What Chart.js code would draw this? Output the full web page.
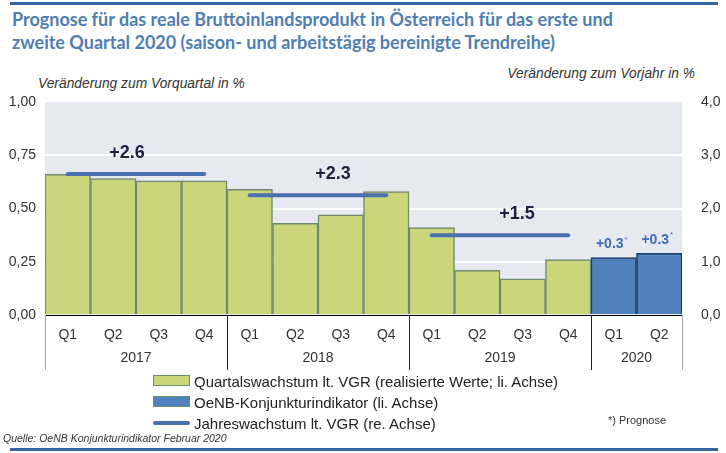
<!DOCTYPE html>
<html>
<head>
<meta charset="utf-8">
<script src="https://cdn.jsdelivr.net/npm/chart.js@4.4.1/dist/chart.umd.min.js"></script>
<style>
  body { margin: 0; width: 726px; height: 453px; position: relative; overflow: hidden; background: #fff;
         font-family: "Liberation Sans", Arial, sans-serif; color: #222; }
  canvas { position: absolute; left: 0; top: 0; }
  .rule { position: absolute; left: 10px; width: 708px; height: 3px; background: #3366a3; }
  .rule.top { top: 2px; }
  .rule.bottom { top: 448px; }
  .title { position: absolute; left: 12px; top: 8px; font-family: Lato, "Open Sans", sans-serif; font-weight: bold;
           font-size: 18px; line-height: 23px; color: #4f7eb0; white-space: nowrap; }
  .axt { position: absolute; font-family: "Liberation Sans Narrow", "Liberation Sans", sans-serif; font-style: italic;
         font-size: 13.8px; color: #333; white-space: nowrap; }
  .axt.left { left: 38px; top: 76px; }
  .axt.right { right: 31px; top: 66px; }
  .legend { position: absolute; left: 153px; top: 372px; font-size: 15px; color: #222; }
  .legend div { height: 21px; line-height: 19px; white-space: nowrap; }
  .legend span.sw { display: inline-block; width: 35px; height: 9px; margin-right: 4px; vertical-align: 1px; }
  .legend span.ln { display: inline-block; width: 37px; height: 4px; border-radius: 2px; margin-right: 4px;
                    vertical-align: 4px; background: #4b6fad; }
  .note { position: absolute; left: 608px; top: 414px; font-size: 11px; color: #333; }
  .source { position: absolute; left: 3px; top: 432px; font-family: "Liberation Sans Narrow", "Liberation Sans", sans-serif;
            font-style: italic; font-size: 10.5px; color: #333; }
</style>
</head>
<body>
<div class="rule top"></div>
<div class="title">Prognose für das reale Bruttoinlandsprodukt in Österreich für das erste und<br>zweite Quartal 2020 (saison- und arbeitstägig bereinigte Trendreihe)</div>
<div class="axt left">Veränderung zum Vorquartal in %</div>
<div class="axt right">Veränderung zum Vorjahr in %</div>
<canvas id="gdpChart" width="726" height="453"></canvas>
<div class="legend">
  <div><span class="sw" style="background:#cbd67a;border:1px solid #6e8a6e"></span>Quartalswachstum lt. VGR (realisierte Werte; li. Achse)</div>
  <div><span class="sw" style="background:#4f81bd;border:1px solid #6e8a6e"></span>OeNB-Konjunkturindikator (li. Achse)</div>
  <div><span class="ln"></span>Jahreswachstum lt. VGR (re. Achse)</div>
</div>
<div class="note">*) Prognose</div>
<div class="source">Quelle: OeNB Konjunkturindikator Februar 2020</div>
<div class="rule bottom"></div>
<script>
// categories
const quarters = ['Q1', 'Q2', 'Q3', 'Q4', 'Q1', 'Q2', 'Q3', 'Q4', 'Q1', 'Q2', 'Q3', 'Q4', 'Q1', 'Q2'];
const years = ['2017', '2018', '2019', '2020'];
const quartersPerYear = [4, 4, 4, 2];

// quarter-on-quarter growth, left axis (%)
const quarterlyGrowth = [0.66, 0.64, 0.63, 0.63, 0.59, 0.43, 0.47, 0.58, 0.41, 0.21, 0.17, 0.26, null, null];
const indicatorForecast = [null, null, null, null, null, null, null, null, null, null, null, null, 0.27, 0.29];
const forecastLabels = ['', '', '', '', '', '', '', '', '', '', '', '', '+0.3', '+0.3'];

// annual growth 2017-2019, right axis (%)
const annualGrowth = [2.65, 2.25, 1.5];
const annualLabels = ['+2.6', '+2.3', '+1.5'];

// tick labels
const leftTicks = [0, 0.25, 0.5, 0.75, 1];
const rightTicks = [0, 1, 2, 3, 4];

Chart.defaults.font.family = '"Liberation Sans", Arial, sans-serif';
Chart.defaults.font.size = 14;
Chart.defaults.color = '#333';

// one line per year, spanning that year's quarters only
const annualDatasets = annualGrowth.map((v, i) => {
  const first = quartersPerYear.slice(0, i).reduce((a, b) => a + b, 0);
  const data = quarters.map((q, k) => (k >= first && k < first + quartersPerYear[i]) ? v : null);
  return {
    type: 'line', label: 'Jahreswachstum lt. VGR (re. Achse)', data: data, yAxisID: 'yRight',
    borderColor: '#4b6fad', borderWidth: 4, borderCapStyle: 'round', pointRadius: 0, spanGaps: false, order: 0
  };
});

const bgPlugin = {
  id: 'plotBackground',
  beforeDraw(chart) {
    const a = chart.chartArea, ctx = chart.ctx;
    ctx.save();
    ctx.fillStyle = '#e7e9f1';
    ctx.fillRect(a.left, a.top, a.right - a.left, a.bottom - a.top);
    ctx.restore();
  }
};

const labelPlugin = {
  id: 'yearsAndLabels',
  afterDraw(chart) {
    const ctx = chart.ctx, a = chart.chartArea;
    const xs = chart.scales.x, yr = chart.scales.yRight, yl = chart.scales.y;
    const half = (xs.getPixelForValue(1) - xs.getPixelForValue(0)) / 2;
    ctx.save();

    // year separators and year labels
    let start = 0;
    const bounds = [xs.getPixelForValue(0) - half];
    quartersPerYear.forEach(n => {
      start += n;
      bounds.push(xs.getPixelForValue(start - 1) + half);
    });
    bounds.forEach((x, i) => {
      ctx.strokeStyle = (i === 0 || i === bounds.length - 1) ? '#a6a6a6' : '#222';
      ctx.lineWidth = 1;
      ctx.beginPath();
      ctx.moveTo(Math.round(x) + 0.5, a.bottom);
      ctx.lineTo(Math.round(x) + 0.5, a.bottom + 55);
      ctx.stroke();
    });
    ctx.fillStyle = '#333';
    ctx.font = '14px "Liberation Sans", Arial, sans-serif';
    ctx.textAlign = 'center';
    ctx.textBaseline = 'middle';
    years.forEach((y, i) => ctx.fillText(y, (bounds[i] + bounds[i + 1]) / 2, a.bottom + 43));

    // annual growth labels above the lines
    const labelShift = [-9, 15, 17];
    ctx.fillStyle = '#231f3c';
    ctx.font = 'bold 18px "Liberation Sans", Arial, sans-serif';
    annualLabels.forEach((t, i) => {
      const cx = (bounds[i] + bounds[i + 1]) / 2 + labelShift[i];
      ctx.fillText(t, cx, yr.getPixelForValue(annualGrowth[i]) - 21);
    });

    // forecast labels with asterisk
    ctx.fillStyle = '#3d6db2';
    forecastLabels.forEach((t, k) => {
      if (!t) return;
      const cx = xs.getPixelForValue(k) - 4;
      const cy = yl.getPixelForValue(indicatorForecast[k]) - 13;
      ctx.font = 'bold 14px "Liberation Sans", Arial, sans-serif';
      ctx.textAlign = 'center';
      ctx.fillText(t, cx, cy);
      const w = ctx.measureText(t).width;
      ctx.font = '8px "Liberation Sans", Arial, sans-serif';
      ctx.textAlign = 'left';
      ctx.fillText('*', cx + w / 2 + 1, cy - 5);
    });
    ctx.restore();
  }
};

const gdpConfig = {
  type: 'bar',
  data: {
    labels: quarters,
    datasets: [
      ...annualDatasets,
      {
        label: 'Quartalswachstum lt. VGR (realisierte Werte; li. Achse)', data: quarterlyGrowth, yAxisID: 'y',
        backgroundColor: '#cbd67a', borderColor: '#6e8a6e', borderWidth: 1.5, grouped: false,
        categoryPercentage: 1, barPercentage: 1, order: 1
      },
      {
        label: 'OeNB-Konjunkturindikator (li. Achse)', data: indicatorForecast, yAxisID: 'y',
        backgroundColor: '#4f81bd', borderColor: '#1b3a66', borderWidth: 1.5, grouped: false,
        categoryPercentage: 1, barPercentage: 1, order: 1
      }
    ]
  },
  options: {
    responsive: false,
    animation: false,
    layout: { padding: { top: 102, left: 0, right: 0, bottom: 0 } },
    plugins: { legend: { display: false }, tooltip: { enabled: false } },
    scales: {
      x: {
        grid: { display: false },
        border: { display: true, color: '#000', width: 1 },
        ticks: { padding: 4, autoSkip: false, maxRotation: 0 },
        afterFit: s => { s.height = 138; }
      },
      y: {
        position: 'left', min: 0, max: 1,
        afterBuildTicks: s => { s.ticks = leftTicks.map(v => ({ value: v })); },
        ticks: { padding: 9, callback: v => v.toFixed(2).replace('.', ',') },
        grid: {
          drawTicks: false, lineWidth: 2,
          color: c => (c.tick.value > 0 && c.tick.value < 1) ? '#ffffff' : 'rgba(0,0,0,0)'
        },
        border: { display: false },
        afterFit: s => { s.width = 45; }
      },
      yRight: {
        position: 'right', min: 0, max: 4,
        afterBuildTicks: s => { s.ticks = rightTicks.map(v => ({ value: v })); },
        ticks: { padding: 11, callback: v => v.toFixed(1).replace('.', ',') },
        grid: { display: false },
        border: { display: false },
        afterFit: s => { s.width = 44; }
      }
    }
  },
  plugins: [bgPlugin, labelPlugin]
};

new Chart(document.getElementById('gdpChart'), gdpConfig);
</script>
</body>
</html>
